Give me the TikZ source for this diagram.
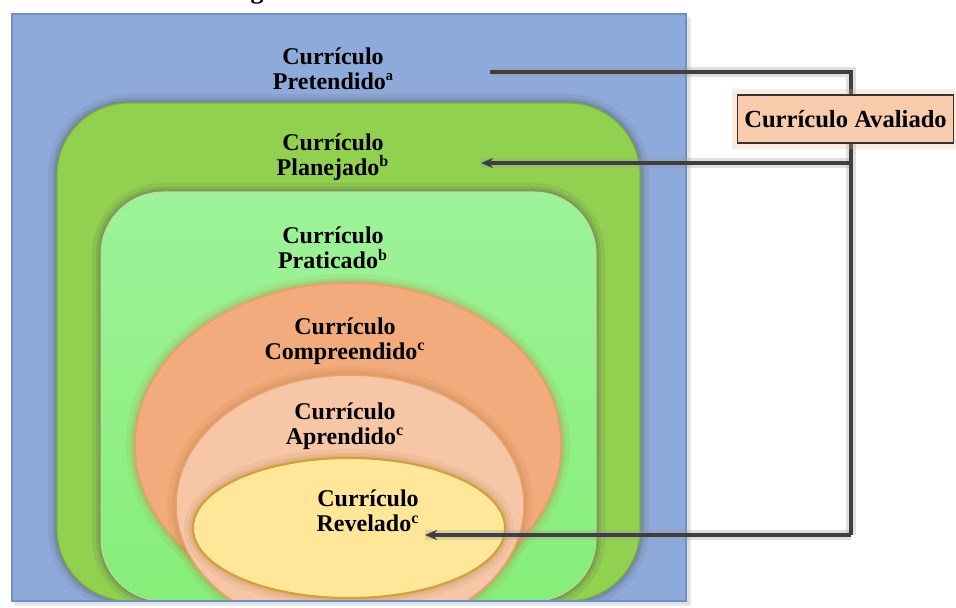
\documentclass[tikz,border=0pt]{standalone}
\usepackage{fontspec}
\setmainfont{Liberation Serif}
\usetikzlibrary{arrows.meta,shapes.geometric}
\definecolor{cblue}{HTML}{8EAADB}
\definecolor{cblueedge}{HTML}{6F8FC8}
\definecolor{cdgreen}{HTML}{92D050}
\definecolor{cdgreenedge}{HTML}{78B33C}
\definecolor{clgreen}{HTML}{9EF39A}
\definecolor{clgreenb}{HTML}{86EE78}
\definecolor{corange}{HTML}{F2AB7C}
\definecolor{cpeach}{HTML}{F6C6A6}
\definecolor{cyellow}{HTML}{FFE699}
\definecolor{cyellowedge}{HTML}{C9A43A}
\definecolor{cline}{HTML}{3F3F3F}
\definecolor{cbox}{HTML}{F8CBAD}
\tikzset{
  lbl/.style={align=center,font=\fontsize{12}{12.5}\selectfont\bfseries,text=black,inner sep=0pt},
  conn/.style={draw=cline,line width=1.6pt},
  connshadow/.style={draw=black!40,line width=5pt,opacity=0.3},
  tip/.style={-{Stealth[length=6pt,width=5pt]}},
  softglow/.style={preaction={draw=#1,opacity=0.10,line width=9pt},
                   preaction={draw=#1,opacity=0.14,line width=5pt},
                   preaction={draw=#1,opacity=0.18,line width=2.5pt}}
}
\begin{document}
\begin{tikzpicture}[x=0.5pt,y=-0.5pt]
\useasboundingbox (0,0) rectangle (956,608);
% fragment of the cut-off caption above
\begin{scope}
\clip (0,0) rectangle (956,608);
\node[anchor=base,inner sep=0pt,font=\fontsize{13}{14}\selectfont\bfseries] (cap) at (257,-1) {g};
\end{scope}
% outer blue rectangle with soft shadow
\fill[black!25,opacity=0.35] (15,18) rectangle (691,606);
\fill[black!25,opacity=0.25] (13,16) rectangle (689,604);
\begin{scope}
\clip (12,14) rectangle (686,601);
\fill[cblue] (12,14) rectangle (686,601);
\fill[cdgreen,draw=cdgreenedge,line width=0.6pt,rounded corners=36pt,softglow=black!70] (57,103) rectangle (640,601);
\shade[top color=clgreen,bottom color=clgreenb,rounded corners=31pt,softglow=black!70] (101,192) rectangle (596,601);
\draw[cdgreenedge!50,line width=0.5pt,rounded corners=31pt] (101,192) rectangle (596,601);
\fill[corange,draw=corange!75!brown,line width=0.8pt,softglow=brown] (348,445) ellipse [x radius=213, y radius=162];
\fill[cpeach,draw=corange!80!brown,line width=0.8pt,softglow=brown] (350,505) ellipse [x radius=174, y radius=130];
\fill[cyellow,draw=cyellowedge,line width=1pt,softglow=brown] (349,528) ellipse [x radius=156, y radius=70];
\end{scope}
\draw[cblueedge,line width=0.8pt] (12,14) rectangle (686,601);
% labels
\node[lbl] (pret) at (333,69) {Currículo\\Pretendidoª};
\node[lbl] (plan) at (333,157) {Currículo\\Planejado\textsuperscript{b}};
\node[lbl] (prat) at (333,248) {Currículo\\Praticado\textsuperscript{b}};
\node[lbl] (comp) at (345,341) {Currículo\\Compreendido\textsuperscript{c}};
\node[lbl] (apre) at (345,426) {Currículo\\Aprendido\textsuperscript{c}};
\node[lbl] (reve) at (368,511) {Currículo\\Revelado\textsuperscript{c}};
% connector points
\coordinate (p0) at (490,72);
\coordinate (j1) at (851,72);
\coordinate (j2) at (851,163);
\coordinate (j3) at (851,535);
\coordinate (t2) at (481,163);
\coordinate (t3) at (425,535);
% shadows of connectors
\draw[connshadow] (p0) -- (j1) -- (j3);
\draw[connshadow] (j2) -- (t2);
\draw[connshadow] (j3) -- (t3);
% connectors
\draw[conn,line join=miter] (p0) -- (j1) -- (j3);
\draw[conn,tip] (j2) -- (t2);
\draw[conn,tip] (j3) -- (t3);
% evaluated curriculum box
\node[draw=black!80,fill=cbox,line width=0.8pt,minimum width=108pt,minimum height=24pt,inner sep=0pt,
  font=\fontsize{12.3}{14}\selectfont\bfseries,
  preaction={draw=corange,opacity=0.25,line width=6pt}] (aval) at (845.5,119) {Currículo Avaliado};
\end{tikzpicture}
\end{document}
